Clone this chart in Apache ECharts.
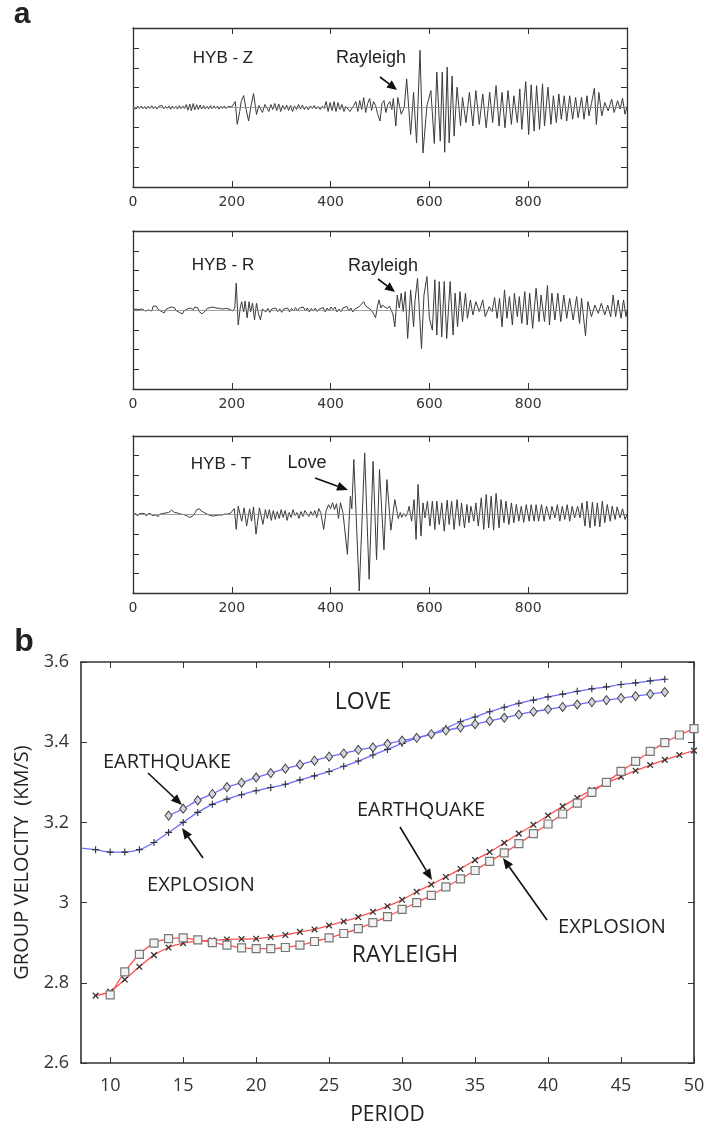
<!DOCTYPE html>
<html>
<head>
<meta charset="utf-8">
<script src="https://cdn.jsdelivr.net/npm/echarts@6/dist/echarts.min.js"></script>
<style>
  html, body { margin: 0; padding: 0; background: #fff; }
  #chart { width: 712px; height: 1129px; }
</style>
</head>
<body>
<div id="chart"></div>
<script>
(function () {
  "use strict";

  // --- Data ---
  var TRACE_LABELS = [0, 200, 400, 600, 800];
  var TRACE_TICKS = [200, 400, 600, 800];
  var AMP_TICKS = [-3, -2, -1, 0, 1, 2, 3];
  var PERIOD_TICKS = [10, 15, 20, 25, 30, 35, 40, 45, 50];
  var VEL_TICKS = [2.6, 2.8, 3, 3.2, 3.4, 3.6];

  // seismograms: [time (s), amplitude]
  var traceZ = [[0,0],[3,0.05],[6,-0.08],[10,0.06],[13,-0.05],[17,0.08],[20,-0.06],[24,0.05],[27,-0.08],[31,0.07],[34,-0.05],[38,0.09],[41,-0.06],[45,0.05],[48,-0.08],[52,0.06],[55,-0.04],[59,0.1],[62,-0.07],[66,0.06],[69,-0.05],[73,0.08],[76,-0.09],[80,0.07],[83,-0.05],[87,0.06],[90,-0.08],[94,0.09],[97,-0.06],[101,0.07],[104,-0.05],[108,0.15],[111,-0.14],[115,0.18],[118,-0.16],[122,0.2],[125,-0.12],[129,0.14],[132,-0.1],[136,0.12],[139,-0.08],[143,0.1],[146,-0.07],[150,0.06],[153,-0.08],[157,0.1],[160,-0.06],[164,0.08],[167,-0.05],[171,0.07],[174,-0.08],[178,0.06],[181,-0.05],[185,0.08],[188,-0.06],[192,0.05],[196,-0.04],[200,0.03],[204,0.1],[207,0.3],[211,-0.85],[216,-0.2],[219,0.3],[224,0.6],[229,-0.1],[234,-0.68],[239,0.1],[244,0.7],[250,-0.35],[255,0.1],[258,0.18],[262,-0.25],[267,0.15],[271,0.22],[275,-0.2],[279,0.15],[283,-0.1],[287,0.2],[291,-0.15],[295,0.18],[299,-0.2],[303,0.1],[307,-0.1],[311,0.12],[315,-0.15],[319,0.1],[323,-0.2],[327,0.08],[331,-0.1],[335,0.15],[339,-0.08],[343,0.12],[347,-0.1],[351,0.05],[355,-0.12],[359,0.08],[363,-0.05],[367,0.1],[371,-0.08],[375,0.05],[379,-0.1],[383,0.06],[387,-0.05],[391,0.3],[395,-0.2],[399,0.25],[403,-0.15],[407,0.3],[411,-0.2],[415,0.25],[419,-0.1],[423,0.15],[427,-0.2],[431,0.05],[435,0.05],[439,-0.2],[443,-0.1],[447,0.1],[451,0.3],[455,-0.2],[459,0.35],[463,-0.1],[467,0.5],[471,-0.25],[475,0.2],[479,0.45],[483,-0.15],[487,0.3],[491,0.1],[495,-0.3],[500,-0.68],[504,0.2],[508,0.35],[512,-0.25],[516,0.15],[520,0.3],[524,-0.1],[527,0.45],[532,-0.93],[536,0.5],[543,-0.34],[549,0],[554,1.44],[562,-1.36],[568,0.76],[574,-1.78],[581,2.88],[587,-2.29],[595,0.08],[603,0.85],[610,-1.81],[615,1.78],[622,-1.69],[626,1.78],[631,-2.25],[636,2.03],[640,-1.78],[646,1.58],[650,-1.44],[656,1.02],[663,-0.93],[667,0.51],[674,-0.76],[681,0.76],[688,-0.93],[694,0.85],[701,-0.85],[708,0.68],[715,-1.02],[722,0.76],[728,-0.76],[735,1.1],[741,-0.93],[747,0.76],[753,-1.02],[759,0.85],[766,-0.85],[771,0.59],[778,-0.76],[783,0.93],[787,-1.1],[795,1.3],[801,-1.36],[806,1.14],[812,-1.19],[817,1.1],[823,-1.1],[829,1.19],[833,-0.93],[840,1.02],[846,-0.85],[851,0.59],[857,-0.76],[862,0.68],[867,-0.59],[873,0.59],[878,-0.68],[884,0.59],[890,-0.59],[896,0.51],[901,-0.51],[908,0.51],[913,-0.59],[919,0.59],[923,-0.42],[928,0.2],[934,0.97],[938,-0.85],[943,0.76],[949,-0.42],[955,0.25],[962,-0.17],[969,0.42],[974,-0.25],[981,0.34],[986,-0.08],[991,0.46],[996,-0.34],[1000,0.05]];

  var traceR = [[0,0],[3,-0.1],[6,0.05],[9,0.08],[12,0.02],[15,0.1],[18,0.05],[22,0.1],[25,-0.05],[28,0.05],[31,0],[34,0.08],[38,-0.05],[41,0.2],[44,0.1],[47,0.2],[50,0.05],[53,0.12],[56,-0.05],[60,0.05],[63,-0.15],[66,0.02],[69,-0.08],[72,0.1],[75,0.05],[78,0.15],[81,0.05],[84,0.12],[88,-0.05],[91,0.02],[94,-0.12],[97,-0.08],[100,-0.2],[103,-0.05],[106,-0.1],[110,0.05],[113,-0.05],[116,0.1],[119,0.12],[122,0.02],[125,0.15],[128,0.08],[131,0.12],[134,-0.08],[137,-0.03],[140,-0.2],[143,-0.1],[146,-0.05],[150,0.08],[153,0],[156,0.12],[159,0.05],[162,0.15],[165,0.05],[168,0.1],[172,0.02],[175,0.08],[178,-0.02],[181,0.05],[184,0.02],[187,0.08],[190,-0.02],[194,0.05],[198,0],[202,-0.05],[206,0.1],[209,1.36],[213,-0.76],[217,0.1],[220,0.42],[224,-0.1],[227,0.45],[231,-0.4],[235,0.42],[238,-0.1],[242,0.35],[246,-0.5],[250,0.34],[254,-0.2],[258,-0.5],[262,0.05],[265,0.1],[269,-0.1],[273,0.08],[277,-0.12],[281,0.05],[285,-0.05],[289,0.1],[293,-0.08],[297,0.06],[301,-0.12],[305,0.05],[309,-0.02],[313,0.1],[317,-0.1],[321,0.08],[325,-0.05],[329,0.12],[333,-0.05],[337,0.1],[341,0.02],[345,0.15],[349,-0.05],[353,0.1],[357,-0.1],[361,0.08],[365,-0.05],[369,0.1],[373,-0.08],[377,0.05],[381,-0.05],[385,0.12],[389,-0.1],[393,0.1],[397,-0.05],[401,0.15],[405,0.02],[409,0.15],[413,-0.1],[417,0.05],[421,-0.08],[425,0.1],[429,0.05],[433,0.18],[437,-0.05],[441,0.1],[445,-0.1],[449,0.05],[453,-0.05],[457,0.15],[461,0.05],[467,0.42],[471,0.2],[474,0.25],[480,0.05],[485,-0.1],[491,-0.39],[495,0.2],[498,0.51],[502,0.1],[505,0.25],[510,0.15],[515,0.08],[519,0.2],[522,0.17],[526,-0.2],[530,-0.85],[535,0.76],[539,0.1],[543,0.85],[547,-0.08],[551,0.93],[556,-1.44],[562,1.02],[568,-0.85],[571,0.5],[576,1.61],[584,-1.95],[589,0.76],[595,1.69],[600,-0.42],[606,-1.02],[611,1.53],[615,-1.27],[620,1.44],[625,-1.36],[630,1.44],[635,-1.44],[642,1.44],[648,-1.27],[652,0.85],[657,-0.85],[662,0.93],[667,-0.59],[673,0.85],[677,-0.42],[683,0.51],[688,-0.25],[694,0.42],[701,-0.08],[708,0.51],[713,-0.34],[721,0.17],[727,-0.08],[732,0.63],[737,-0.42],[742,0.59],[747,-0.85],[752,1.02],[757,-0.42],[762,0.68],[768,-0.76],[772,0.85],[778,-0.34],[782,0.68],[787,-0.68],[793,0.93],[798,-0.76],[803,0.85],[809,-0.93],[816,1.1],[822,-0.59],[826,0.76],[833,-0.59],[839,1.24],[843,-0.76],[848,0.85],[854,-0.51],[860,0.85],[866,-0.59],[872,0.76],[878,-0.42],[884,0.59],[891,-0.51],[898,0.68],[904,-0.68],[908,0.59],[916,-1.31],[921,0.42],[928,-0.34],[935,0.25],[942,-0.17],[948,0.34],[955,-0.25],[961,0.25],[967,-0.34],[972,0.76],[977,-0.34],[982,0.51],[988,-0.42],[993,0.51],[998,-0.34],[1000,0]];

  var traceT = [[0,0],[3,-0.05],[6,0.05],[9,-0.08],[12,0.03],[15,-0.05],[18,0.06],[21,-0.02],[24,0.04],[27,-0.08],[30,0.03],[33,-0.03],[36,0.05],[39,-0.06],[42,0.04],[45,-0.02],[48,0.06],[51,-0.1],[54,0.02],[57,-0.05],[60,0.05],[63,-0.02],[66,0.08],[69,0],[72,0.1],[75,0.15],[78,0.22],[81,0.12],[84,0.1],[87,0.05],[90,0.08],[93,0],[96,0.02],[99,-0.05],[102,0],[105,-0.08],[108,-0.05],[111,-0.12],[114,-0.15],[117,-0.25],[120,-0.1],[123,-0.18],[126,0.1],[129,0.25],[132,0.2],[135,0.29],[138,0.18],[141,0.2],[144,0.1],[147,0.12],[150,0.02],[153,0.05],[156,-0.05],[159,-0.02],[162,-0.08],[165,0.02],[168,-0.05],[171,0.05],[174,-0.02],[177,0.08],[180,-0.03],[183,0.05],[186,0.02],[189,0.1],[192,0.02],[195,-0.05],[198,0.08],[202,0.1],[205,0.3],[209,-0.76],[213,0.42],[220,-0.34],[225,0.34],[230,-0.59],[236,0.29],[240,-0.34],[244,0.39],[249,-1.0],[256,0.34],[263,-0.5],[268,0.25],[272,-0.2],[276,0.25],[280,-0.3],[284,0.2],[288,-0.25],[292,0.15],[296,-0.2],[300,0.25],[304,-0.15],[308,0.2],[312,-0.3],[316,0.1],[320,-0.15],[324,0.25],[328,-0.05],[332,0.1],[336,-0.2],[340,0.15],[344,-0.1],[348,0.2],[352,0.05],[356,-0.1],[360,0.15],[364,-0.05],[368,0.2],[372,-0.15],[376,0.3],[380,0.1],[386,-0.76],[391,0.2],[396,0.5],[400,0.3],[404,0.6],[408,0.25],[412,0.55],[416,-0.2],[420,0.6],[425,0.1],[428,-0.6],[434,-2.03],[440,0.93],[443,0.3],[447,2.8],[458,-3.9],[469,3.14],[478,-3.3],[486,2.71],[493,-2.3],[499,2.29],[508,-1.8],[514,1.78],[522,-0.8],[530,0.76],[537,-0.2],[541,0.1],[544,-0.15],[548,0.05],[552,-0.1],[556,0.1],[559,0.42],[564,-0.34],[569,0.76],[573,-1.27],[577,1.53],[583,-1.1],[587,0.59],[591,-0.17],[596,0.68],[601,-0.59],[606,0.68],[611,-0.76],[615,0.68],[620,-0.51],[625,0.59],[630,-0.85],[636,0.73],[640,-0.51],[645,0.68],[650,-0.76],[656,0.76],[661,-0.59],[665,0.59],[671,-0.68],[676,0.51],[680,-0.42],[684,0.42],[690,-0.34],[694,0.59],[699,-0.59],[705,0.85],[710,-0.76],[715,1.02],[720,-0.68],[725,0.93],[730,-0.8],[735,1.07],[741,-0.68],[745,0.76],[751,-0.42],[755,0.68],[761,-0.51],[766,0.59],[771,-0.42],[776,0.51],[781,-0.34],[786,0.42],[791,-0.4],[796,0.5],[802,-0.34],[806,0.5],[812,-0.34],[816,0.5],[821,-0.34],[827,0.5],[832,-0.34],[837,0.42],[844,-0.25],[848,0.42],[854,-0.17],[859,0.5],[864,-0.34],[869,0.42],[874,-0.25],[879,0.5],[884,-0.34],[889,0.42],[894,-0.17],[900,0.42],[905,-0.17],[909,0.59],[915,-0.59],[919,0.68],[925,-0.68],[930,0.63],[935,-0.59],[940,0.59],[945,-0.63],[950,0.68],[955,-0.42],[960,0.51],[966,-0.34],[970,0.42],[976,-0.25],[980,0.39],[986,-0.17],[991,0.29],[996,-0.25],[1000,0]];

  // dispersion curves (period s, group velocity km/s)
  var loveExpPeriod = [8,9,10,11,12,13,14,15,16,17,18,19,20,21,22,23,24,25,26,27,28,29,30,31,32,33,34,35,36,37,38,39,40,41,42,43,44,45,46,47,48];
  var loveExpVel = [3.136,3.132,3.126,3.126,3.132,3.150,3.175,3.200,3.225,3.245,3.258,3.269,3.279,3.287,3.295,3.306,3.316,3.327,3.340,3.353,3.368,3.382,3.397,3.410,3.420,3.435,3.451,3.463,3.476,3.487,3.497,3.505,3.513,3.520,3.527,3.533,3.538,3.544,3.548,3.553,3.557];
  var loveEqPeriod = [14,15,16,17,18,19,20,21,22,23,24,25,26,27,28,29,30,31,32,33,34,35,36,37,38,39,40,41,42,43,44,45,46,47,48];
  var loveEqVel = [3.217,3.234,3.255,3.271,3.288,3.299,3.312,3.323,3.334,3.344,3.354,3.364,3.372,3.381,3.387,3.396,3.404,3.411,3.420,3.429,3.437,3.445,3.453,3.461,3.469,3.476,3.482,3.488,3.494,3.500,3.505,3.510,3.515,3.520,3.525];
  var rayEqPeriod = [9,10,11,12,13,14,15,16,17,18,19,20,21,22,23,24,25,26,27,28,29,30,31,32,33,34,35,36,37,38,39,40,41,42,43,44,45,46,47,48,49,50];
  var rayEqVel = [2.768,2.778,2.808,2.840,2.869,2.888,2.899,2.904,2.906,2.908,2.909,2.910,2.914,2.919,2.927,2.933,2.943,2.953,2.964,2.977,2.991,3.007,3.027,3.045,3.064,3.084,3.106,3.126,3.149,3.172,3.194,3.217,3.240,3.261,3.281,3.298,3.314,3.329,3.343,3.356,3.368,3.379];
  var rayExpPeriod = [10,11,12,13,14,15,16,17,18,19,20,21,22,23,24,25,26,27,28,29,30,31,32,33,34,35,36,37,38,39,40,41,42,43,44,45,46,47,48,49,50];
  var rayExpVel = [2.770,2.827,2.871,2.899,2.910,2.912,2.907,2.900,2.894,2.887,2.885,2.885,2.888,2.894,2.903,2.912,2.923,2.935,2.950,2.965,2.983,3.000,3.018,3.039,3.059,3.080,3.103,3.124,3.147,3.172,3.196,3.221,3.248,3.275,3.300,3.327,3.352,3.377,3.399,3.418,3.434];

  // --- Style ---
  var INK = "#222";
  var FRAME = "#333";
  var TRACE = "#3a3a3a";
  var LOVE = "#6d6dff";
  var RAY = "#ff5252";
  var PLUS = "path://M0,4.2H10V5.8H0Z M4.2,0H5.8V10H4.2Z";
  var SANS = "'Open Sans', 'DejaVu Sans', sans-serif";
  var ARIAL = "'Liberation Sans', Arial, sans-serif";

  function zip(xs, ys) {
    return xs.map(function (x, i) { return [x, ys[i]]; });
  }

  var grids = [
    { left: 133, top: 28, width: 494, height: 159 },
    { left: 133, top: 231, width: 494, height: 158 },
    { left: 133, top: 436, width: 494, height: 157 },
    { left: 81, top: 662, width: 613, height: 401 }
  ].map(function (g) {
    return Object.assign({ show: false }, g);
  });

  var xAxes = [], yAxes = [];
  function frameAxis(g, extra) {
    var w = g === 3 ? 1.6 : 1.3;
    return Object.assign({
      type: "value", gridIndex: g, splitLine: { show: false },
      axisLine: { show: true, onZero: false, lineStyle: { color: FRAME, width: w } },
      axisLabel: { show: false }
    }, extra);
  }
  function tick(values) {
    return { show: true, inside: true, length: 6, lineStyle: { color: FRAME, width: 1 }, customValues: values };
  }

  [0, 1, 2].forEach(function (g) {
    xAxes.push(frameAxis(g, {
      position: "bottom", min: 0, max: 1000, axisTick: tick(TRACE_TICKS),
      axisLabel: { show: true, customValues: TRACE_LABELS, margin: 8, color: "#333", fontSize: 14, fontFamily: "'DejaVu Sans', sans-serif" }
    }));
    xAxes.push(frameAxis(g, { position: "top", min: 0, max: 1000, axisTick: tick(TRACE_TICKS) }));
    yAxes.push(frameAxis(g, { position: "left", min: -4, max: 4, axisTick: tick(AMP_TICKS) }));
    yAxes.push(frameAxis(g, { position: "right", min: -4, max: 4, axisTick: tick(AMP_TICKS) }));
  });

  xAxes.push(frameAxis(3, {
    position: "bottom", min: 8, max: 50,
    name: "PERIOD", nameLocation: "middle", nameGap: 42,
    nameTextStyle: { color: INK, fontSize: 21, fontFamily: SANS },
    axisTick: tick(PERIOD_TICKS),
    axisLabel: { show: true, customValues: PERIOD_TICKS, margin: 14, color: "#333", fontSize: 18, fontFamily: SANS }
  }));
  xAxes.push(frameAxis(3, { position: "top", min: 8, max: 50, axisTick: tick(PERIOD_TICKS) }));
  yAxes.push(frameAxis(3, {
    position: "left", min: 2.6, max: 3.6,
    name: "GROUP VELOCITY  (KM/S)", nameLocation: "middle", nameRotate: 90, nameGap: 44,
    nameTextStyle: { color: INK, fontSize: 20, fontFamily: SANS },
    axisTick: tick(VEL_TICKS),
    axisLabel: {
      show: true, customValues: VEL_TICKS, margin: 12, color: "#333", fontSize: 18, fontFamily: SANS,
      formatter: function (v) { return String(+v.toFixed(1)); }
    }
  }));
  yAxes.push(frameAxis(3, { position: "right", min: 2.6, max: 3.6, axisTick: tick(VEL_TICKS) }));

  var series = [traceZ, traceR, traceT].map(function (tr, i) {
    return {
      type: "line", xAxisIndex: i * 2, yAxisIndex: i * 2, data: tr,
      symbol: "none", lineStyle: { color: TRACE, width: 1 }, z: 3,
      markLine: {
        silent: true, symbol: ["none", "none"], label: { show: false },
        lineStyle: { color: "#8a8a8a", width: 0.8, type: "solid" },
        data: [{ yAxis: 0 }]
      }
    };
  });

  function curve(xs, ys, color, symbol, extra) {
    return Object.assign({
      type: "line", xAxisIndex: 6, yAxisIndex: 6, data: zip(xs, ys),
      smooth: 0.25, showAllSymbol: true, symbol: symbol, symbolSize: 7,
      lineStyle: { color: color, width: 1.3 }, z: 4
    }, extra);
  }

  var loveExpData = zip(loveExpPeriod, loveExpVel).map(function (d, i) {
    return i === 0 ? { value: d, symbol: "none" } : d;
  });

  series.push(curve(loveExpPeriod, loveExpVel, LOVE, PLUS, {
    data: loveExpData, itemStyle: { color: "#333" }
  }));
  series.push(curve(loveEqPeriod, loveEqVel, LOVE, "diamond", {
    symbolSize: [7, 9], itemStyle: { color: "#d5d5de", borderColor: "#444", borderWidth: 1 }
  }));
  series.push(curve(rayEqPeriod, rayEqVel, RAY, PLUS, {
    symbolRotate: 45, symbolSize: 8, itemStyle: { color: "#333" }
  }));
  series.push(curve(rayExpPeriod, rayExpVel, RAY, "rect", {
    symbolSize: 8, itemStyle: { color: "#f2f2f2", borderColor: "#777", borderWidth: 1.2 }
  }));

  // --- Annotations ---
  function label(text, x, y, font) {
    return { type: "text", x: x, y: y, silent: true, z: 10,
      style: { text: text, font: font, fill: INK, align: "center", verticalAlign: "middle" } };
  }
  function arrow(x1, y1, x2, y2, head, half) {
    var dx = x2 - x1, dy = y2 - y1, len = Math.sqrt(dx * dx + dy * dy);
    var ux = dx / len, uy = dy / len;
    var bx = x2 - ux * head, by = y2 - uy * head;
    return [
      { type: "line", silent: true, z: 10, shape: { x1: x1, y1: y1, x2: bx, y2: by }, style: { stroke: "#111", lineWidth: 1.6 } },
      { type: "polygon", silent: true, z: 10, shape: { points: [[x2, y2], [bx - uy * half, by + ux * half], [bx + uy * half, by - ux * half]] }, style: { fill: "#111" } }
    ];
  }

  var small = "17px " + ARIAL;
  var note = "20px " + SANS;
  var big = "23px " + SANS;
  var graphics = [
    label("a", 22, 15, "bold 30px " + ARIAL),
    label("b", 24, 642, "bold 32px " + ARIAL),
    label("HYB - Z", 223, 58, small),
    label("Rayleigh", 371, 58, "18px " + ARIAL),
    label("HYB - R", 223, 265, small),
    label("Rayleigh", 383, 266, "18px " + ARIAL),
    label("HYB - T", 221, 464, small),
    label("Love", 307, 463, "18px " + ARIAL),
    label("LOVE", 363, 702, big),
    label("EARTHQUAKE", 167, 762, note),
    label("EXPLOSION", 201, 885, note),
    label("EARTHQUAKE", 421, 810, note),
    label("RAYLEIGH", 405, 955, big),
    label("EXPLOSION", 612, 927, note)
  ]
    .concat(arrow(380, 77, 397, 90, 10, 4.5))
    .concat(arrow(378, 279, 395, 292, 10, 4.5))
    .concat(arrow(315, 478, 348, 490, 11, 4.5))
    .concat(arrow(148, 773, 182, 805, 11, 4.5))
    .concat(arrow(203, 858, 182, 828, 11, 4.5))
    .concat(arrow(400, 827, 432, 880, 11, 4.5))
    .concat(arrow(547, 920, 503, 858, 11, 4.5));

  var chart = echarts.init(document.getElementById("chart"), null, { renderer: "canvas" });
  chart.setOption({
    animation: false,
    backgroundColor: "#fff",
    textStyle: { fontFamily: SANS },
    grid: grids,
    xAxis: xAxes,
    yAxis: yAxes,
    series: series,
    graphic: graphics
  });
})();
</script>
</body>
</html>
